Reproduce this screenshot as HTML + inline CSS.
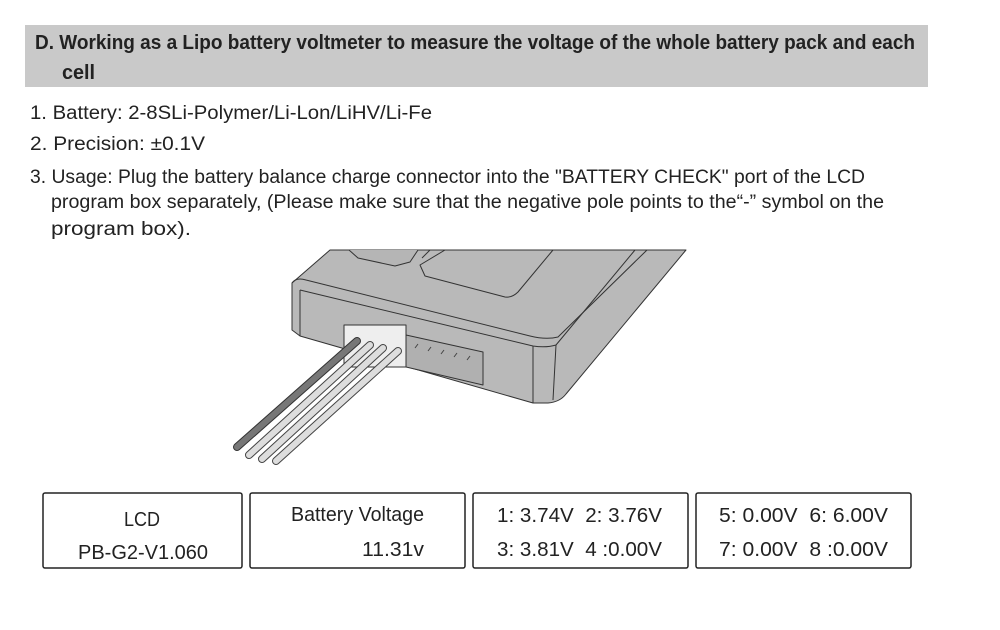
<!DOCTYPE html>
<html><head><meta charset="utf-8"><style>html,body{margin:0;padding:0;background:#fff}svg{display:block}</style></head>
<body>
<svg width="1000" height="630" viewBox="0 0 1000 630" xmlns="http://www.w3.org/2000/svg" font-family="Liberation Sans, sans-serif" fill="#222">
<rect x="25" y="25" width="903" height="62" fill="#c9c9c9"/>
<text x="35" y="49" font-size="20" font-weight="bold" textLength="880" lengthAdjust="spacingAndGlyphs">D. Working as a Lipo battery voltmeter to measure the voltage of the whole battery pack and each</text>
<text x="62" y="79" font-size="20" font-weight="bold" textLength="33" lengthAdjust="spacingAndGlyphs">cell</text>
<g font-size="19">
<text x="30" y="119" textLength="402" lengthAdjust="spacingAndGlyphs">1. Battery: 2-8SLi-Polymer/Li-Lon/LiHV/Li-Fe</text>
<text x="30" y="150" textLength="175" lengthAdjust="spacingAndGlyphs">2. Precision: ±0.1V</text>
<text x="30" y="183" textLength="835" lengthAdjust="spacingAndGlyphs">3. Usage: Plug the battery balance charge connector into the "BATTERY CHECK" port of the LCD</text>
<text x="51" y="208" textLength="833" lengthAdjust="spacingAndGlyphs">program box separately, (Please make sure that the negative pole points to the“-” symbol on the</text>
<text x="51" y="235" textLength="140" lengthAdjust="spacingAndGlyphs">program box).</text>
</g>
<!-- device -->
<g stroke="#333" stroke-width="1" stroke-linejoin="round">
<path d="M330,250 L686,250 L566,394 Q560,402 548,403 L533,403 L300,336 L292,330 L292,283 Z" fill="#b9b9b9"/>
<path d="M292,283 Q296,277 306,280 L530,336 Q546,340 558,337 L647,250" fill="none"/>
<path d="M300,290 L533,346 Q546,348 556,345 L635,250" fill="none"/>
<path d="M300,290 L300,336 M533,346 L533,403 M556,345 L553,400" fill="none"/>
<path d="M349,250 L358,258 L395,266 L410,262 L418,250" fill="#b5b5b5"/>
<path d="M445,250 L420,265 L425,276 L505,297 Q512,298 518,292 L553,250" fill="none"/>
<path d="M430,250 L422,258" fill="none"/>
<rect x="344" y="325" width="62" height="42" fill="#eee"/>
<path d="M406,335 L483,352 L483,385 L406,367 Z" fill="#b0b0b0"/>
</g>
<g stroke="#444" stroke-width="1" fill="none">
<path d="M415,348 l3,-4 M428,351 l3,-4 M441,354 l3,-4 M454,357 l3,-4 M467,360 l3,-4"/>
</g>
<g stroke-linecap="round">
<line x1="237" y1="447" x2="357" y2="341" stroke="#333" stroke-width="8"/>
<line x1="237" y1="447" x2="357" y2="341" stroke="#777" stroke-width="6"/>
<line x1="249" y1="455" x2="370" y2="345" stroke="#444" stroke-width="8"/>
<line x1="249" y1="455" x2="370" y2="345" stroke="#ddd" stroke-width="6"/>
<line x1="262" y1="459" x2="383" y2="348" stroke="#444" stroke-width="8"/>
<line x1="262" y1="459" x2="383" y2="348" stroke="#ddd" stroke-width="6"/>
<line x1="276" y1="461" x2="398" y2="351" stroke="#444" stroke-width="8"/>
<line x1="276" y1="461" x2="398" y2="351" stroke="#ddd" stroke-width="6"/>
</g>
<!-- boxes -->
<g fill="none" stroke="#222" stroke-width="1.5">
<rect x="43" y="493" width="199" height="75" rx="2"/>
<rect x="250" y="493" width="215" height="75" rx="2"/>
<rect x="473" y="493" width="215" height="75" rx="2"/>
<rect x="696" y="493" width="215" height="75" rx="2"/>
</g>
<g font-size="20">
<text x="124" y="526" textLength="36" lengthAdjust="spacingAndGlyphs">LCD</text>
<text x="78" y="559" textLength="130" lengthAdjust="spacingAndGlyphs">PB-G2-V1.060</text>
<text x="291" y="521" textLength="133" lengthAdjust="spacingAndGlyphs">Battery Voltage</text>
<text x="362" y="556" textLength="62" lengthAdjust="spacingAndGlyphs">11.31v</text>
<text x="497" y="522" textLength="165" lengthAdjust="spacingAndGlyphs" xml:space="preserve">1: 3.74V  2: 3.76V</text>
<text x="497" y="556" textLength="165" lengthAdjust="spacingAndGlyphs" xml:space="preserve">3: 3.81V  4 :0.00V</text>
<text x="719" y="522" textLength="169" lengthAdjust="spacingAndGlyphs" xml:space="preserve">5: 0.00V  6: 6.00V</text>
<text x="719" y="556" textLength="169" lengthAdjust="spacingAndGlyphs" xml:space="preserve">7: 0.00V  8 :0.00V</text>
</g>
</svg>
</body></html>
